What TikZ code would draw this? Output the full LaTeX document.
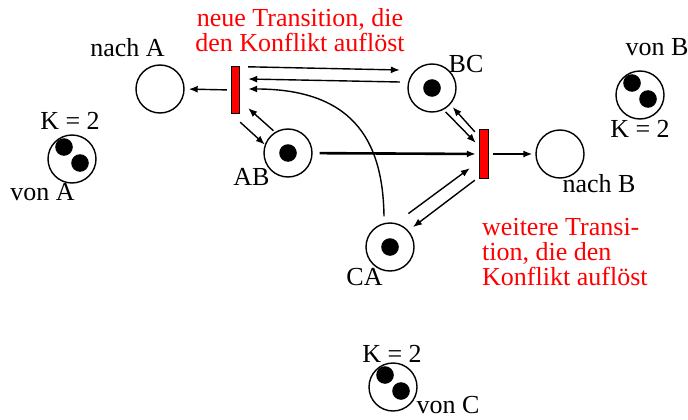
\documentclass[tikz,border=0pt]{standalone}
\usepackage{fontspec}
\setmainfont{Liberation Serif}
\usetikzlibrary{arrows.meta}

\begin{document}
\begin{tikzpicture}[x=1pt, y=-1pt,
    >={Latex[length=9pt,width=7pt]},
    place/.style={draw, circle, line width=1.4pt, minimum size=48pt, inner sep=0pt},
    trans/.style={draw, line width=1.4pt, fill=red, minimum width=8pt, minimum height=47pt, inner sep=0pt},
    arc/.style={->, line width=1.4pt},
    lbl/.style={anchor=base, inner sep=0pt, font=\fontsize{26}{25}\selectfont},
    note/.style={lbl, text=red}]
    \useasboundingbox (0,0) rectangle (688,420);

    % Places
    \foreach \name/\x/\y in {nachA/160/89, bc/432/88, ab/288/153, nachB/560/154,
                              ca/390/247, vonA/72/159, vonB/640/95, vonC/393/387}
        \node[place] (\name) at (\x,\y) {};

    % Tokens
    \foreach \name in {bc, ab, ca}
        \fill (\name.center) circle (8.8);
    \foreach \name in {vonA, vonB, vonC} {
        \fill ([shift={(-8,-12)}]\name.center) circle (8.8);
        \fill ([shift={(8,4)}]\name.center) circle (8.8);
    }

    % Transitions
    \node[trans] (t1) at (235.5,90) {};
    \node[trans, minimum width=9pt, minimum height=49pt] (t2) at (484,154) {};

    % Place labels
    \node[lbl] (lblNachA) at (127.5,57) {nach A};
    \node[lbl] (lblBC) at (466,73) {BC};
    \node[lbl] (lblAB) at (251.5,185) {AB};
    \node[lbl] (lblNachB) at (599,192) {nach B};
    \node[lbl] (lblCA) at (364.5,285) {CA};
    \node[lbl] (capA) at (70,129) {K = 2};
    \node[lbl] (lblVonA) at (42.5,200) {von A};
    \node[lbl] (lblVonB) at (657,56) {von B};
    \node[lbl] (capB) at (640,137) {K = 2};
    \node[lbl] (capC) at (392,362) {K = 2};
    \node[lbl] (lblVonC) at (448,413) {von C};

    % Notes on the added transitions (base = last line)
    \node[note, align=center] (noteT1) at (300,52) {neue Transition, die\\den Konflikt auflöst};
    \node[note, align=left, anchor=base west] (noteT2) at (482,285) {weitere Transi-\\tion, die den\\Konflikt auflöst};

    % Arcs around t1
    \draw[arc, shorten <=4pt, shorten >=4pt] (t1.west) -- (nachA.east);
    \draw[arc] ([shift={(8,1)}]t1.north east) -- ([shift={(-7.5,-18)}]bc.west);
    \draw[arc] ([shift={(-7.5,-6)}]bc.west) -- ([shift={(8,-11)}]t1.east);
    \draw[arc] ([shift={(-6,-6)}]ca.north) .. controls +(-1,-67) and +(112,0) .. ([shift={(8,-1)}]t1.east);
    \draw[arc] ([shift={(0,8)}]t1.south east) -- (ab.160);
    \draw[arc, shorten <=2pt] (ab.122) -- ([shift={(8,-6)}]t1.south east);

    % Arcs around t2
    \draw[arc, line width=2.6pt, shorten <=7pt, shorten >=3pt] (ab) -- (t2);
    \draw[arc, shorten <=3pt] (bc.-62) -- ([shift={(-3,14)}]t2.north west);
    \draw[arc, shorten >=3.5pt] ([shift={(-4,3)}]t2.north west) -- (bc.-42);
    \draw[arc, shorten <=4pt, shorten >=3pt] (t2.east) -- (nachB.west);
    \draw[arc] ([shift={(6,-12)}]ca.60) -- ([shift={(-9,-11)}]t2.south west);
    \draw[arc] ([shift={(-4,1)}]t2.south west) -- ([shift={(4,-4)}]ca.40);
\end{tikzpicture}
\end{document}
